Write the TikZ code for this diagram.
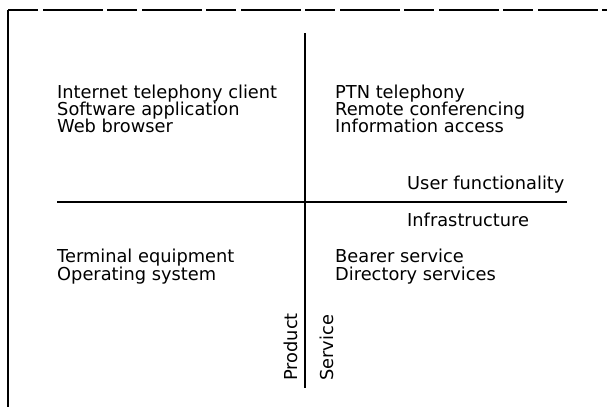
\documentclass[tikz,border=0pt]{standalone}
\usepackage{fontspec}
\setmainfont{DejaVu Sans}
\begin{document}
\begin{tikzpicture}[x=1pt,y=-1pt,
  lbl/.style={anchor=base west,inner sep=0pt,font=\fontsize{17.8}{17}\selectfont},
  rot/.style={inner sep=0pt,font=\fontsize{17.8}{17}\selectfont,rotate=90},
  rule/.style={line width=1.1pt,black}]
\useasboundingbox[fill=white] (0,0) rectangle (607,407);
% frame corner
\coordinate (tl) at (8,10);
\coordinate (tr) at (607,10);
\coordinate (bl) at (8,407);
\draw[rule,dash pattern=on 30pt off 5pt on 60pt off 4pt] (tl) -- (tr);
\draw[rule,line width=1.3pt] (tl) -- (bl);
% axes
\coordinate (vtop) at (305,33);
\coordinate (vbot) at (305,388);
\coordinate (hl) at (57,202);
\coordinate (hr) at (567,202);
\draw[rule] (vtop) -- (vbot);
\draw[rule] (hl) -- (hr);
% upper left
\node[lbl] (a1) at (57,98) {Internet telephony client};
\node[lbl] (a2) at (57,115) {Software application};
\node[lbl] (a3) at (57,132) {Web browser};
% upper right
\node[lbl] (b1) at (335,98) {PTN telephony};
\node[lbl] (b2) at (335,115) {Remote conferencing};
\node[lbl] (b3) at (335,132) {Information access};
\node[lbl] (uf) at (407,189) {User functionality};
\node[lbl] (inf) at (407,226) {Infrastructure};
% lower left
\node[lbl] (c1) at (57,262) {Terminal equipment};
\node[lbl] (c2) at (57,280) {Operating system};
% lower right
\node[lbl] (d1) at (335,262) {Bearer service};
\node[lbl] (d2) at (335,280) {Directory services};
% axis labels
\node[rot,anchor=base west] (prod) at (297,381) {Product};
\node[rot,anchor=base west] (serv) at (333,381) {Service};
\end{tikzpicture}
\end{document}
